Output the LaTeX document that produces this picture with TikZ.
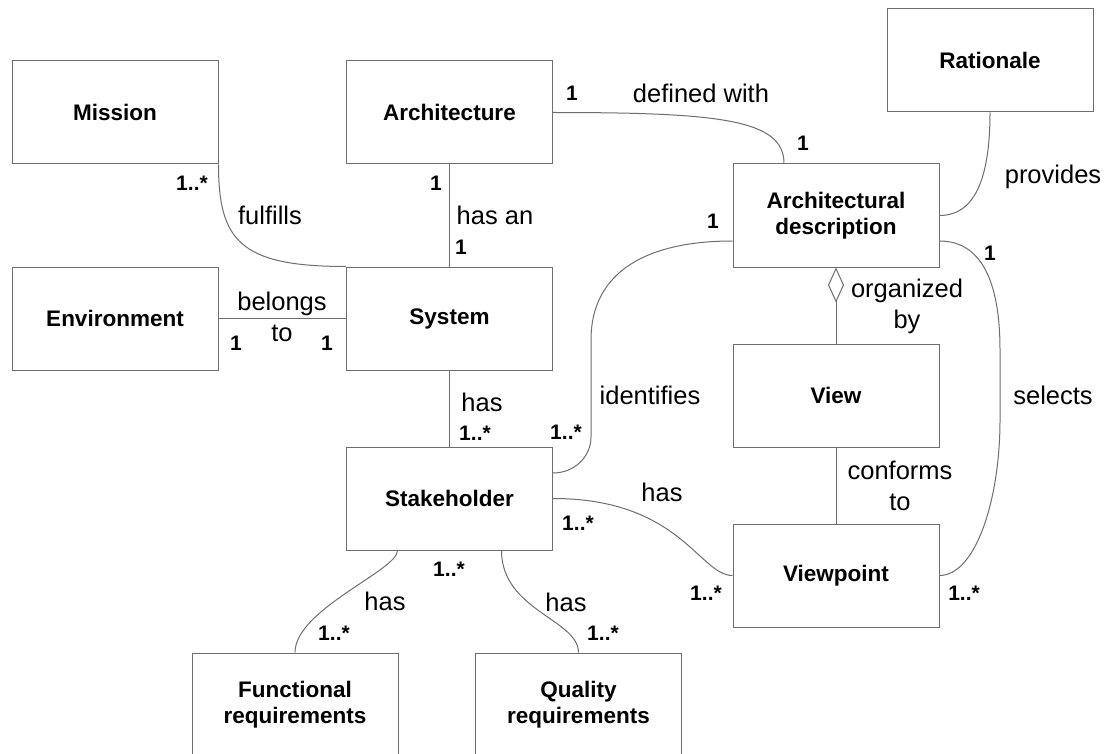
\documentclass[tikz,border=0pt]{standalone}
\usepackage{fontspec}
\setmainfont{Liberation Sans}
\usetikzlibrary{arrows.meta}
\definecolor{linegray}{RGB}{110,110,110}
\begin{document}
\begin{tikzpicture}[x=1pt,y=-1pt,
  entity/.style={draw=linegray, line width=1pt, fill=white,
    minimum width=206pt, minimum height=103pt, inner sep=0pt,
    align=center, font=\fontsize{22.5}{26}\selectfont\bfseries},
  conn/.style={draw=linegray, line width=1pt},
  lbl/.style={inner sep=0pt, align=center, font=\fontsize{25.5}{31}\selectfont},
  mult/.style={inner sep=0pt, font=\fontsize{21}{24}\selectfont\bfseries},
]
% canvas
\clip (0,0) rectangle (1113,754);
\fill[white] (0,0) rectangle (1113,754);

% entities
\node[entity] (mission) at (115,112.5)   {Mission};
\node[entity] (arch)    at (449.5,112.5) {Architecture};
\node[entity] (rat)     at (990,60.5)    {Rationale};
\node[entity] (ad)      at (836,215.5)   {Architectural\\description};
\node[entity] (env)     at (115,318.5)   {Environment};
\node[entity] (system)  at (449.5,318.5) {System};
\node[entity] (view)    at (836,395.5)   {View};
\node[entity] (stake)   at (449.5,498.5) {Stakeholder};
\node[entity] (vp)      at (836,575.5)   {Viewpoint};
\node[entity] (func)    at (295,704.5)   {Functional\\requirements};
\node[entity] (qual)    at (578.5,704.5) {Quality\\requirements};

% waypoints of the long curved connectors
\coordinate (selA) at (1000,350);
\coordinate (selB) at (1000,420);
\coordinate (idA)  at (591,340);
\coordinate (idB)  at (591,437);

% connectors
\draw[conn] (mission.south east) .. controls +(0,76) and +(-106,0) .. (system.north west);
\draw[conn] (arch.south) -- (system.north);
\draw[conn] (env.east) -- (system.west);
\draw[conn] (arch.east) .. controls +(167,0) and +(0,-44) .. ([xshift=-52pt]ad.north);
\draw[conn] (rat.south) .. controls +(0,85) and +(25,0) .. (ad.east);
\draw[conn] ([yshift=-25.5pt]ad.east) .. controls +(46,0) and +(0,-60) .. (selA)
  -- (selB) .. controls +(0,80) and +(36,0) .. (vp.east);
\draw[conn] ([yshift=-25.5pt]ad.west) .. controls +(-83,0) and +(0,-70) .. (idA)
  -- (idB) .. controls +(0,20) and +(21,0) .. ([yshift=25.5pt]stake.east);
\draw[conn, -{Diamond[open, length=35pt, width=16pt]}] (view.north) -- (ad.south);
\draw[conn] (view.south) -- (vp.north);
\draw[conn] (system.south) -- (stake.north);
\draw[conn] (stake.east) .. controls +(127,0) and +(-33,0) .. (vp.west);
\draw[conn] ([xshift=-52pt]stake.south) .. controls +(0,20) and +(0,-43) .. (func.north);
\draw[conn] ([xshift=52pt]stake.south) .. controls +(0,60) and +(0,-33) .. (qual.north);

% association labels
\node[lbl] (lfulfills) at (270,215)   {fulfills};
\node[lbl] (lhasan)    at (495,215)   {has an};
\node[lbl] (lbelongs)  at (282,317)   {belongs\\to};
\node[lbl] (ldefined)  at (701,93)    {defined with};
\node[lbl] (lprovides) at (1053,177)  {provides};
\node[lbl] (lorg)      at (907,306)   {organized\\by};
\node[lbl] (lhas1)     at (482,402)   {has};
\node[lbl] (lident)    at (650,395)   {identifies};
\node[lbl] (lselects)  at (1053,395)  {selects};
\node[lbl] (lconforms) at (900,486)   {conforms\\to};
\node[lbl] (lhas2)     at (662,492)   {has};
\node[lbl] (lhas3)     at (385,601)   {has};
\node[lbl] (lhas4)     at (566,602)   {has};

% multiplicities
\node[mult] (m1)  at (192,183) {1..*};
\node[mult] (m2)  at (436,183) {1};
\node[mult] (m3)  at (461,247) {1};
\node[mult] (m4)  at (236,343) {1};
\node[mult] (m5)  at (327,343) {1};
\node[mult] (m6)  at (572,93)  {1};
\node[mult] (m7)  at (803,143) {1};
\node[mult] (m8)  at (713,221) {1};
\node[mult] (m9)  at (990,253) {1};
\node[mult] (m10) at (475,433) {1..*};
\node[mult] (m11) at (566,432) {1..*};
\node[mult] (m12) at (578,523) {1..*};
\node[mult] (m13) at (706,593) {1..*};
\node[mult] (m14) at (964,593) {1..*};
\node[mult] (m15) at (449,569) {1..*};
\node[mult] (m16) at (334,633) {1..*};
\node[mult] (m17) at (603,633) {1..*};
\end{tikzpicture}
\end{document}
